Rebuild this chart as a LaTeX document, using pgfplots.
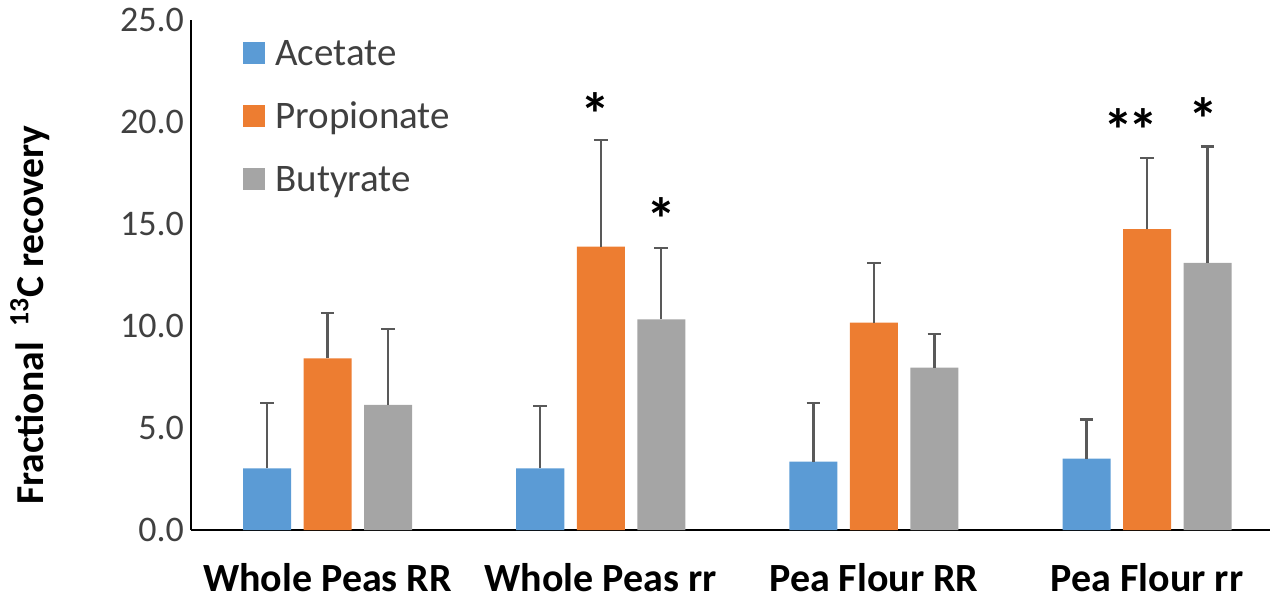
\documentclass[border=0pt]{standalone}
\usepackage{pgfplots}
\pgfplotsset{compat=1.18}
\usepackage{fontspec}
\setmainfont{Carlito}
\definecolor{cA}{HTML}{5B9BD5}
\definecolor{cP}{HTML}{ED7D31}
\definecolor{cB}{HTML}{A5A5A5}
\definecolor{eb}{HTML}{595959}
\definecolor{tl}{HTML}{404040}
\begin{document}
\begin{tikzpicture}
\useasboundingbox (-95.5pt,-35.5pt) rectangle (540.5pt,265pt);
\begin{axis}[
  at={(0pt,0pt)}, anchor=south west,
  width=539.5pt, height=255pt, scale only axis,
  ybar, bar width=24pt,
  xmin=-0.5, xmax=3.45, ymin=0, ymax=25,
  ytick={0,5,10,15,20,25},
  xtick={0,1,2,3},
  xticklabels={Whole Peas RR, Whole Peas rr, Pea Flour RR, Pea Flour rr},
  major tick length=0pt,
  axis x line*=bottom, axis y line*=left,
  axis line style={line width=0.8pt, black},
  /pgf/number format/assume math mode=true,
  yticklabel style={/pgf/number format/fixed, /pgf/number format/fixed zerofill, /pgf/number format/precision=1, font=\fontsize{18}{21}\selectfont, text=tl},
  xticklabel style={font=\fontsize{20}{23}\selectfont\bfseries, text=black},
  xticklabel shift=13pt,
  ylabel={Fractional \,\textsuperscript{13}C recovery},
  ylabel style={font=\fontsize{19.8}{22}\selectfont\bfseries, at={(axis description cs:-0.1492,0.4216)}, anchor=center, rotate=0},
  legend style={at={(axis description cs:0.0482,0.962)}, anchor=north west, draw=none, fill=none, inner sep=0pt, row sep=13.5pt, column sep=5pt, font=\fontsize{19.5}{23}\selectfont, text=tl, nodes={inner sep=0pt, text height=13pt, text depth=5pt}},
  legend cell align=left,
  error bars/y dir=plus, error bars/y explicit,
  error bars/error bar style={line width=1.1pt, draw=eb},
  error bars/error mark options={rotate=90, mark size=3.4pt, line width=1.1pt, draw=eb},
]
\addplot[fill=cA, draw=none, bar shift=-30.25pt, legend image code/.code={\fill[cA] (0pt,-3.3pt) rectangle (11pt,7.7pt);}] coordinates {
  (0,3.02) +- (0,3.22)
  (1,3.02) +- (0,3.06)
  (2,3.35) +- (0,2.89)
  (3,3.50) +- (0,1.92)
};
\addlegendentry{Acetate}
\addplot[fill=cP, draw=none, bar shift=0pt, legend image code/.code={\fill[cP] (0pt,-3.3pt) rectangle (11pt,7.7pt);}] coordinates {
  (0,8.41) +- (0,2.24)
  (1,13.89) +- (0,5.23)
  (2,10.16) +- (0,2.94)
  (3,14.75) +- (0,3.49)
};
\addlegendentry{Propionate}
\addplot[fill=cB, draw=none, bar shift=30.25pt, legend image code/.code={\fill[cB] (0pt,-3.3pt) rectangle (11pt,7.7pt);}] coordinates {
  (0,6.13) +- (0,3.74)
  (1,10.33) +- (0,3.48)
  (2,7.96) +- (0,1.65)
  (3,13.09) +- (0,5.71)
};
\addlegendentry{Butyrate}
\node[font=\fontsize{30}{30}\selectfont\bfseries, anchor=base, yshift=-14.5pt] at (axis cs:0.981,20.75) {*};
\node[font=\fontsize{30}{30}\selectfont\bfseries, anchor=base, yshift=-14.5pt] at (axis cs:1.223,15.6) {*};
\node[font=\fontsize{30}{30}\selectfont\bfseries, anchor=base, yshift=-14.5pt] at (axis cs:2.94,20.0) {*\kern-2.5pt*};
\node[font=\fontsize{30}{30}\selectfont\bfseries, anchor=base, yshift=-14.5pt] at (axis cs:3.208,20.5) {*};
\end{axis}
\end{tikzpicture}
\end{document}
